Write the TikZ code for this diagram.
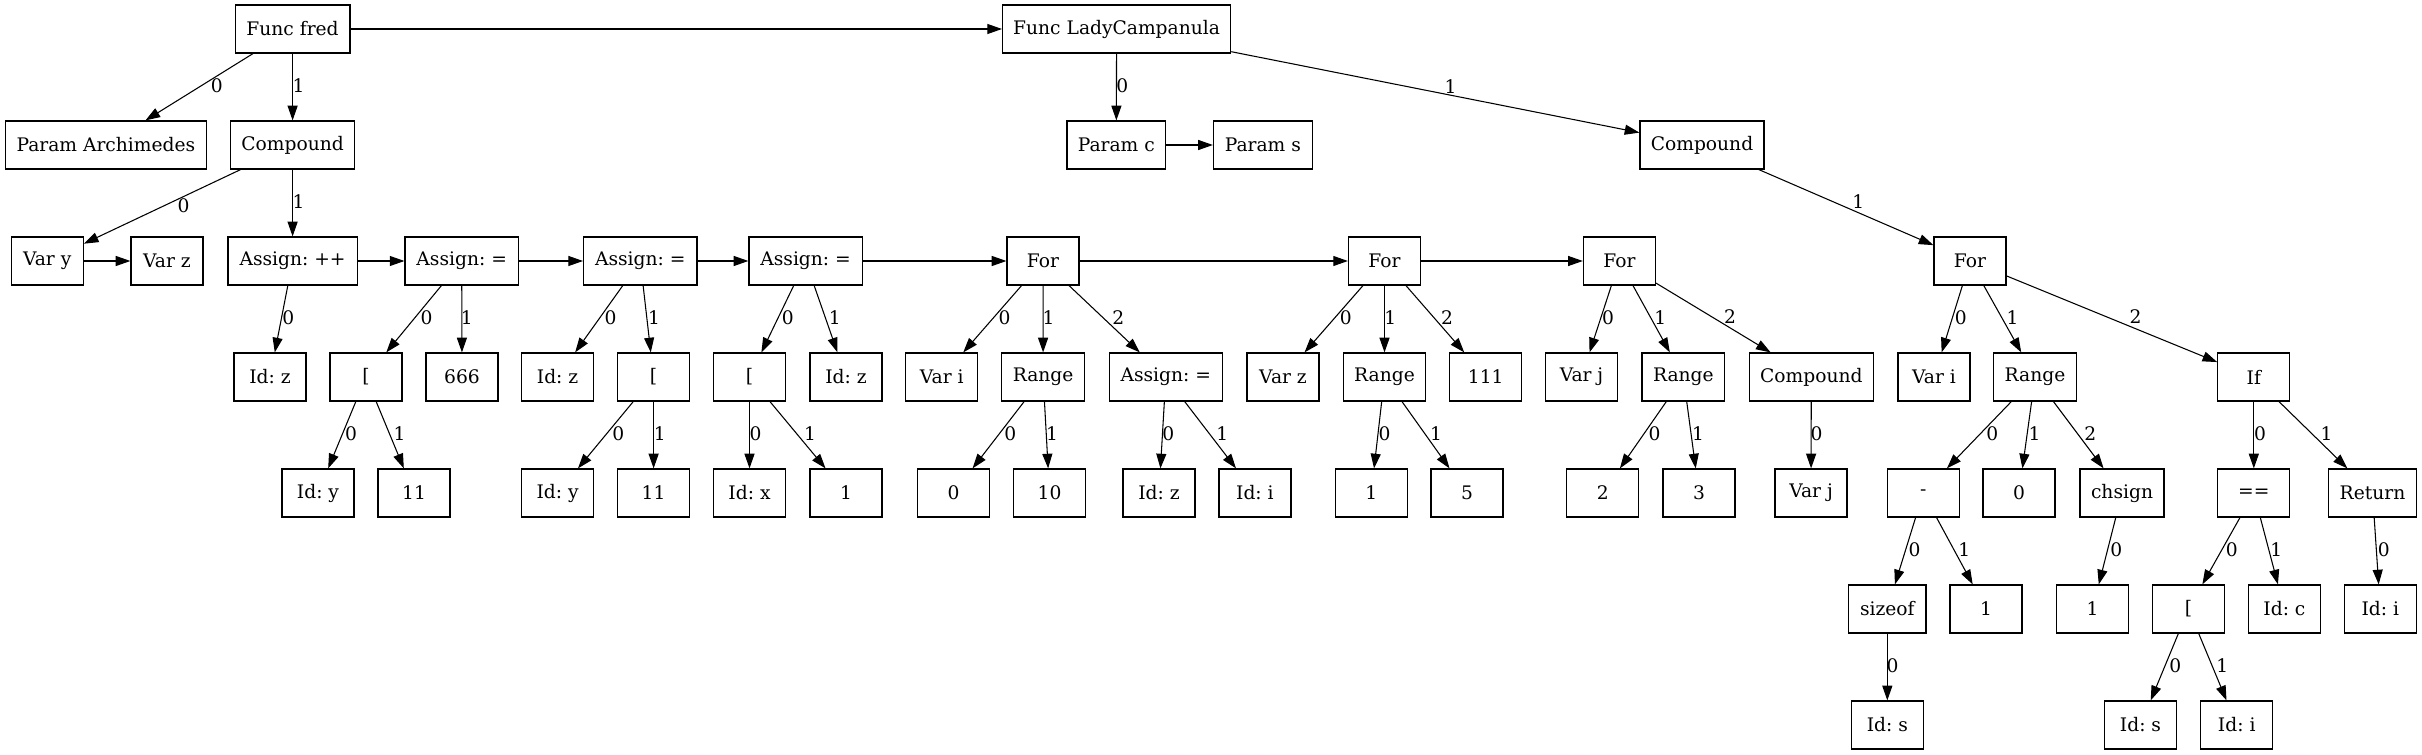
\documentclass[tikz,border=0pt]{standalone}
\usepackage{fontspec}
\setmainfont{DejaVu Serif}
\usetikzlibrary{arrows.meta}
\tikzset{
	box/.style={draw, line width=0.9pt, minimum width=54pt, minimum height=36pt, inner sep=0pt, font=\fontsize{14}{16}\selectfont},
	edge/.style={line width=0.8pt, -{Triangle[length=11pt,width=7.5pt]}},
	lbl/.style={inner sep=0pt, yshift=1pt, font=\fontsize{14}{16}\selectfont}
}
\def\kid(#1)(#2)#3#4{\draw[edge] (#1) -- node[lbl,#4] {#3} (#2);}
\frenchspacing

\begin{document}
\begin{tikzpicture}[x=0.75pt, y={(0pt,-0.75pt)}]
				%%%%% START %%%%%
				\useasboundingbox (0,0) rectangle (2422,755);

				% rank 1
				\node[box, minimum width=86pt] (fred) at (292.6,29) {Func fred};
				\node[box, minimum width=171pt] (lady) at (1116.6,29) {Func LadyCampanula};

				% rank 2
				\node[box, minimum width=151pt] (parA) at (105.9,145) {Param Archimedes};
				\node[box, minimum width=93pt] (cmpF) at (292.6,145) {Compound};
				\node[box, minimum width=74pt] (parC) at (1116.3,145) {Param c};
				\node[box, minimum width=74pt] (parS) at (1262.8,145) {Param s};
				\node[box, minimum width=93pt] (cmpL) at (1702,145) {Compound};

				% rank 3
				\node[box] (varY) at (47.2,261) {Var y};
				\node[box] (varZ) at (167,261) {Var z};
				\node[box, minimum width=97pt] (asgPP) at (292.6,261) {Assign: ++};
				\node[box, minimum width=85pt] (asgA) at (461.7,261) {Assign: =};
				\node[box, minimum width=85pt] (asgB) at (640.3,261) {Assign: =};
				\node[box, minimum width=85pt] (asgC) at (805.6,261) {Assign: =};
				\node[box] (forA) at (1043,261) {For};
				\node[box] (forB) at (1384.5,261) {For};
				\node[box] (forC) at (1619.4,261) {For};
				\node[box] (forD) at (1970,261) {For};

				% rank 4
				\node[box] (idZa) at (270,377) {Id: z};
				\node[box] (brkA) at (366,377) {[};
				\node[box] (n666) at (462,377) {666};
				\node[box] (idZb) at (557.6,377) {Id: z};
				\node[box] (brkB) at (653.6,377) {[};
				\node[box] (brkC) at (749.5,377) {[};
				\node[box] (idZc) at (846,377) {Id: z};
				\node[box] (varIa) at (941.8,377) {Var i};
				\node[box, minimum width=62pt] (rngA) at (1043.1,377) {Range};
				\node[box, minimum width=85pt] (asgD) at (1165.8,377) {Assign: =};
				\node[box] (varZb) at (1283,377) {Var z};
				\node[box, minimum width=62pt] (rngB) at (1384.5,377) {Range};
				\node[box] (n111) at (1485.7,377) {111};
				\node[box] (varJa) at (1581.5,377) {Var j};
				\node[box, minimum width=62pt] (rngC) at (1683.4,377) {Range};
				\node[box, minimum width=93pt] (cmpR) at (1811.3,377) {Compound};
				\node[box] (varIb) at (1934,377) {Var i};
				\node[box, minimum width=62pt] (rngD) at (2035,377) {Range};
				\node[box] (ifA) at (2253.8,377) {If};

				% rank 5
				\node[box] (idYa) at (318,493) {Id: y};
				\node[box] (n11a) at (414,493) {11};
				\node[box] (idYb) at (557.6,493) {Id: y};
				\node[box] (n11b) at (653.6,493) {11};
				\node[box] (idX) at (749.5,493) {Id: x};
				\node[box] (n1a) at (846,493) {1};
				\node[box] (n0a) at (953.6,493) {0};
				\node[box] (n10) at (1049.5,493) {10};
				\node[box] (idZd) at (1159,493) {Id: z};
				\node[box] (idIa) at (1254.9,493) {Id: i};
				\node[box] (n1b) at (1371.2,493) {1};
				\node[box] (n5) at (1467,493) {5};
				\node[box] (n2) at (1602.8,493) {2};
				\node[box] (n3) at (1699,493) {3};
				\node[box] (varJb) at (1811,493) {Var j};
				\node[box] (minus) at (1923.2,493) {-};
				\node[box] (n0b) at (2019,493) {0};
				\node[box, minimum width=63pt] (chs) at (2122,493) {chsign};
				\node[box] (eq) at (2253.8,493) {==};
				\node[box, minimum width=66pt] (ret) at (2372.5,493) {Return};

				% rank 6
				\node[box, minimum width=58pt] (szof) at (1887.3,609) {sizeof};
				\node[box] (n1c) at (1986,609) {1};
				\node[box] (n1d) at (2092.5,609) {1};
				\node[box] (brkD) at (2188.5,609) {[};
				\node[box] (idC) at (2284.4,609) {Id: c};
				\node[box] (idIb) at (2380.3,609) {Id: i};

				% rank 7
				\node[box] (idSa) at (1887.3,725) {Id: s};
				\node[box] (idSb) at (2140.5,725) {Id: s};
				\node[box] (idIc) at (2236.7,725) {Id: i};

				% siblings
				\draw[edge] (fred) -- (lady);
				\draw[edge] (varY) -- (varZ);
				\draw[edge] (parC) -- (parS);
				\draw[edge] (asgPP) -- (asgA);
				\draw[edge] (asgA) -- (asgB);
				\draw[edge] (asgB) -- (asgC);
				\draw[edge] (asgC) -- (forA);
				\draw[edge] (forA) -- (forB);
				\draw[edge] (forB) -- (forC);

				% children
				\kid(fred)(parA){0}{xshift=13.1pt}
				\kid(fred)(cmpF){1}{xshift=4.4pt}
				\kid(lady)(parC){0}{xshift=4.4pt}
				\kid(lady)(cmpL){1}{xshift=11.5pt, yshift=3.5pt}
				\kid(cmpF)(varY){0}{xshift=16pt}
				\kid(cmpF)(asgPP){1}{xshift=4.4pt}
				\kid(cmpL)(forD){1}{xshift=9.2pt, yshift=3.1pt}

				\kid(asgPP)(idZa){0}{xshift=5.3pt}
				\kid(asgA)(brkA){0}{xshift=9.5pt}
				\kid(asgA)(n666){1}{xshift=3.7pt}
				\kid(asgB)(idZb){0}{xshift=8.8pt}
				\kid(asgB)(brkB){1}{xshift=5.3pt}
				\kid(asgC)(brkC){0}{xshift=7.7pt}
				\kid(asgC)(idZc){1}{xshift=6.7pt}
				\kid(forA)(varIa){0}{xshift=9.2pt}
				\kid(forA)(rngA){1}{xshift=4.1pt}
				\kid(forA)(asgD){2}{xshift=10.5pt}
				\kid(forB)(varZb){0}{xshift=9.1pt}
				\kid(forB)(rngB){1}{xshift=4.4pt}
				\kid(forB)(n111){2}{xshift=8.9pt}
				\kid(forC)(varJa){0}{xshift=5.6pt}
				\kid(forC)(rngC){1}{xshift=6.7pt}
				\kid(forC)(cmpR){2}{xshift=12.5pt}
				\kid(forD)(varIb){0}{xshift=6.5pt}
				\kid(forD)(rngD){1}{xshift=7.6pt}
				\kid(forD)(ifA){2}{xshift=17.7pt, yshift=0.5pt}

				\kid(brkA)(idYa){0}{xshift=6.8pt}
				\kid(brkA)(n11a){1}{xshift=7.1pt}
				\kid(brkB)(idYb){0}{xshift=9.6pt}
				\kid(brkB)(n11b){1}{xshift=4.6pt}
				\kid(brkC)(idX){0}{xshift=4.6pt}
				\kid(brkC)(n1a){1}{xshift=9.3pt}
				\kid(rngA)(n0a){0}{xshift=8.9pt}
				\kid(rngA)(n10){1}{xshift=4.3pt}
				\kid(asgD)(idZd){0}{xshift=4.5pt}
				\kid(asgD)(idIa){1}{xshift=9pt}
				\kid(rngB)(n1b){0}{xshift=5.1pt}
				\kid(rngB)(n5){1}{xshift=7.8pt}
				\kid(rngC)(n2){0}{xshift=8.6pt}
				\kid(rngC)(n3){1}{xshift=5.1pt}
				\kid(cmpR)(varJb){0}{xshift=4pt}
				\kid(rngD)(minus){0}{xshift=9.8pt}
				\kid(rngD)(n0b){1}{xshift=5.7pt}
				\kid(rngD)(chs){2}{xshift=8.8pt}
				\kid(ifA)(eq){0}{xshift=4.7pt}
				\kid(ifA)(ret){1}{xshift=10pt}

				\kid(minus)(szof){0}{xshift=6.9pt}
				\kid(minus)(n1c){1}{xshift=7.3pt}
				\kid(chs)(n1d){0}{xshift=6.8pt}
				\kid(eq)(brkD){0}{xshift=7.9pt}
				\kid(eq)(idC){1}{xshift=5.4pt}
				\kid(ret)(idIb){0}{xshift=5.6pt}

				\kid(szof)(idSa){0}{xshift=3.9pt}
				\kid(brkD)(idSb){0}{xshift=8pt}
				\kid(brkD)(idIc){1}{xshift=7.3pt}
				%%%%% END %%%%%
\end{tikzpicture}
\end{document}
